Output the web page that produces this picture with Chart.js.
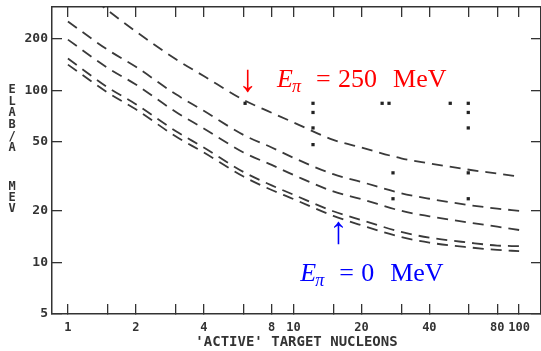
<!DOCTYPE html>
<html>
<head>
<meta charset="utf-8">
<script src="https://cdn.jsdelivr.net/npm/chart.js@4.4.0/dist/chart.umd.min.js"></script>
<style>
  html, body { margin: 0; padding: 0; background: #fff; }
  #wrap { width: 541px; height: 351px; }
</style>
</head>
<body>
<div id="wrap"><canvas id="chart" width="541" height="351"></canvas></div>
<script>

// Values

const nucleons = [1, 1.5, 2, 3, 4, 6, 8, 10, 15, 20, 30, 40, 60, 80, 100];

const elabPi250 = [450, 292, 220, 152, 121, 88, 74, 65, 51.5, 46.5, 40.2, 37.6, 34.5, 32.8, 31.5];
const elabCurve2 = [251, 172, 137, 95, 76, 55, 46.5, 40.5, 32.5, 29.3, 25.2, 23.4, 21.5, 20.5, 19.9];
const elabCurve3 = [197, 135, 108, 75, 60, 43.5, 36.8, 32.2, 25.8, 23.3, 19.9, 18.5, 17.0, 16.1, 15.4];
const elabCurve4 = [153, 104, 83, 58, 46.5, 33.5, 28, 24.7, 19.8, 17.6, 15.0, 13.9, 13.0, 12.5, 12.4];
const elabPi0 = [141, 97, 77.5, 54, 43.5, 31.5, 26.3, 23.3, 18.6, 16.4, 14.0, 13.0, 12.2, 11.8, 11.6];

const markerNucleons = [6.1, 12.2, 12.2, 12.2, 12.2, 24.7, 26.5, 49.5, 59.5, 59.5, 59.5, 27.6, 59.5, 27.6, 59.5];
const markerElab = [84, 84, 74.3, 60.4, 48.3, 84, 84, 84, 84, 74.3, 60.4, 33.1, 33.1, 23.4, 23.4];

const xTickValues = [1, 1.5, 2, 3, 4, 6, 8, 10, 15, 20, 30, 40, 60, 80, 100];
const xTickLabels = [1, 2, 4, 8, 10, 20, 40, 80, 100];
const yTickValues = [5, 10, 20, 50, 100, 200];


// Helpers

const ink = "#333";
const monoBold = (size) => ({ family: "'DejaVu Sans Mono', monospace", size: size, weight: "bold" });
const toPoints = (ys) => nucleons.map((x, i) => ({ x: x, y: ys[i] }));

const curveStyle = {
    borderColor: "#3a3a3a",
    borderWidth: 1.8,
    borderDash: [11, 7],
    pointRadius: 0,
    fill: false,
    cubicInterpolationMode: "monotone",
};

const frameGrid = { drawOnChartArea: false, tickLength: -10, color: ink, lineWidth: 1.3 };
const frameBorder = { color: ink, width: 1.5 };

// fixed box size, no extra label overhang padding
function fixSize(scale, w, h) {
    if (w !== null) scale.width = w;
    if (h !== null) scale.height = h;
    scale.paddingLeft = 0;
    scale.paddingRight = 0;
    scale.paddingTop = 0;
    scale.paddingBottom = 0;
}

function logAxis(position, min, max, values, w, h) {
    return {
        type: "logarithmic",
        position: position,
        min: min,
        max: max,
        afterBuildTicks: (scale) => { scale.ticks = values.map(v => ({ value: v })) },
        afterFit: (scale) => fixSize(scale, w, h),
        grid: frameGrid,
        border: frameBorder,
    };
}


// Annotation text (E_pi labels and stacked y title)

function drawEnergy(ctx, color, x, base, value) {
    ctx.fillStyle = color;
    ctx.textAlign = "left";
    ctx.textBaseline = "alphabetic";
    ctx.font = "italic 26px 'Liberation Serif'";
    ctx.fillText("E", x, base);
    ctx.font = "italic 18px 'Liberation Serif'";
    ctx.fillText("π", x + 15, base + 5);
    ctx.font = "26px 'Liberation Serif'";
    ctx.fillText("=", x + 39, base);
    ctx.fillText(value, x + 61, base);
    const w = ctx.measureText(value).width;
    ctx.fillText("MeV", x + 61 + w + 16, base);
}

function drawArrow(ctx, color, glyph, x, y) {
    ctx.fillStyle = color;
    ctx.font = "38px 'Liberation Serif'";
    ctx.textAlign = "center";
    ctx.textBaseline = "middle";
    ctx.fillText(glyph, x, y);
}

const annotations = {
    id: "annotations",
    afterDraw(chart) {
        const ctx = chart.ctx;
        const xs = chart.scales.x;
        const ys = chart.scales.y;
        ctx.save();

        ctx.fillStyle = ink;
        ctx.font = "bold 12px 'DejaVu Sans Mono'";
        ctx.textAlign = "center";
        ctx.textBaseline = "middle";
        "ELAB/A".split("").forEach((ch, i) => ctx.fillText(ch, 12, 90 + i * 11.6));
        "MEV".split("").forEach((ch, i) => ctx.fillText(ch, 12, 187 + i * 11));

        drawArrow(ctx, "#ff0000", "↓", xs.getPixelForValue(6.25), ys.getPixelForValue(113));
        drawEnergy(ctx, "#ff0000", xs.getPixelForValue(8.45), ys.getPixelForValue(104), "250");

        drawArrow(ctx, "#0000ff", "↑", xs.getPixelForValue(15.8), ys.getPixelForValue(14.8));
        drawEnergy(ctx, "#0000ff", xs.getPixelForValue(10.7), ys.getPixelForValue(7.76), "0");

        ctx.restore();
    }
};


// Chart

const xMin = 0.85, xMax = 125, yMin = 5, yMax = 305;

const xAxis = logAxis("bottom", xMin, xMax, xTickValues, null, 37);
xAxis.ticks = {
    autoSkip: false, maxRotation: 0, padding: 17, color: ink, font: monoBold(12),
    callback: (v) => xTickLabels.includes(v) ? String(v) : "",
};
xAxis.title = { display: true, text: "'ACTIVE' TARGET NUCLEONS", color: ink, font: monoBold(14), padding: 0 };

const xTop = logAxis("top", xMin, xMax, xTickValues, null, 0);
xTop.ticks = { display: false };

const yAxis = logAxis("left", yMin, yMax, yTickValues, 52, null);
yAxis.ticks = { padding: 14, color: ink, font: monoBold(13), callback: (v) => String(v) };

const yRight = logAxis("right", yMin, yMax, yTickValues, 0, null);
yRight.ticks = { display: false };

const chart = document.querySelector("#chart").getContext("2d");

new Chart(chart, {
    type: "line",
    data: {
        datasets: [
            { label: "E_pi = 250 MeV", data: toPoints(elabPi250), ...curveStyle },
            { label: "curve 2", data: toPoints(elabCurve2), ...curveStyle },
            { label: "curve 3", data: toPoints(elabCurve3), ...curveStyle },
            { label: "curve 4", data: toPoints(elabCurve4), ...curveStyle },
            { label: "E_pi = 0 MeV", data: toPoints(elabPi0), ...curveStyle },
            {
                label: "points",
                data: markerNucleons.map((x, i) => ({ x: x, y: markerElab[i] })),
                showLine: false,
                pointStyle: "rect",
                pointRadius: 2.3,
                backgroundColor: "#222",
                borderWidth: 0,
            },
        ]
    },
    options: {
        responsive: false,
        animation: false,
        layout: { autoPadding: false, padding: { top: 7, right: 0, bottom: 0, left: 0 } },
        plugins: { legend: { display: false }, tooltip: { enabled: false } },
        scales: { x: xAxis, x2: xTop, y: yAxis, y2: yRight },
    },
    plugins: [annotations],
})

</script>
</body>
</html>
